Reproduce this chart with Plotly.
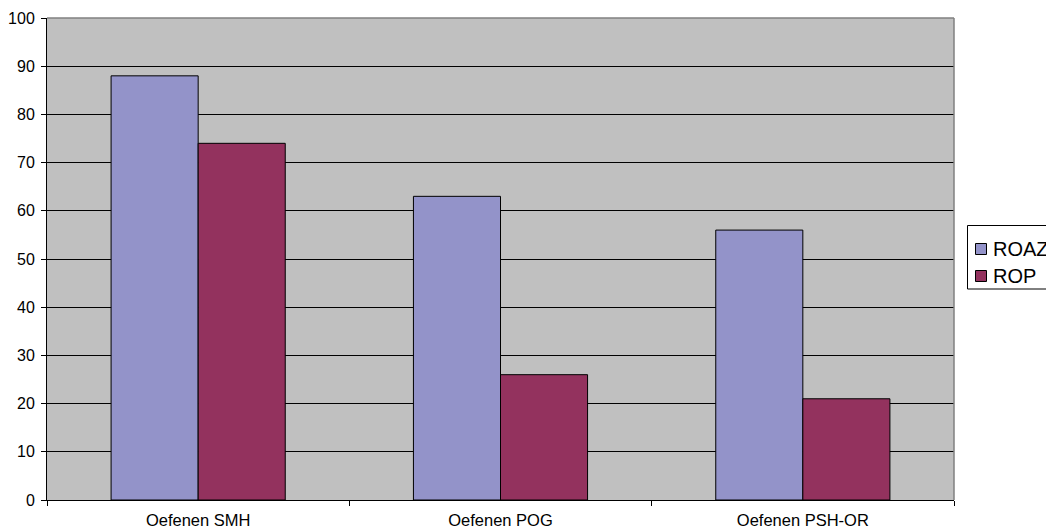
import plotly.graph_objects as go

categories = ["Oefenen SMH", "Oefenen POG", "Oefenen PSH-OR"]
series_names = ["ROAZ", "ROP"]
roaz = [88, 63, 56]
rop = [74, 26, 21]
colors = ["#9393C9", "#93325E"]

fig = go.Figure()
for name, vals, col in zip(series_names, [roaz, rop], colors):
    fig.add_trace(go.Bar(name=name, x=categories, y=vals, showlegend=False,
                         marker=dict(color=col, line=dict(color="black", width=1))))

# plot area in window pixels: x 47..954, y 18..500 (page body adds an 8px offset)
L, W, B, H = 47, 907, 500, 482
def px(x):
    return (x - L) / W
def py(y):
    return (B - y) / H

shapes = [
    dict(type="line", xref="paper", yref="paper", x0=0, x1=1, y0=1, y1=1,
         line=dict(color="#808080", width=1.5), layer="above"),
    dict(type="line", xref="paper", yref="paper", x0=1, x1=1, y0=0, y1=1,
         line=dict(color="#808080", width=1.5), layer="above"),
    dict(type="rect", xref="paper", yref="paper", x0=px(967.5), x1=px(1070),
         y0=py(289), y1=py(225.5), line=dict(color="black", width=1), fillcolor="white"),
]
annotations = []
centers = [249, 276]
for name, col, cy in zip(series_names, colors, centers):
    shapes.append(dict(type="rect", xref="paper", yref="paper", x0=px(975.5), x1=px(986.5),
                       y0=py(cy + 5.5), y1=py(cy - 5.5),
                       line=dict(color="black", width=1), fillcolor=col))
    annotations.append(dict(text=name, xref="paper", yref="paper", x=px(991), y=py(cy),
                            xanchor="left", yanchor="middle", showarrow=False,
                            font=dict(size=20, color="black")))

fig.update_layout(
    width=1046, height=524,
    margin=dict(l=39, r=100, t=10, b=32),
    paper_bgcolor="white",
    plot_bgcolor="#C0C0C0",
    barmode="group",
    bargap=0.424,
    bargroupgap=0,
    font=dict(family="Liberation Sans, Arial, sans-serif", size=12, color="black"),
    showlegend=False,
    shapes=shapes,
    annotations=annotations,
)
fig.update_xaxes(type="category", showline=True, linecolor="black", linewidth=1,
                 ticks="outside", tickson="boundaries", ticklen=5, tickcolor="black",
                 showgrid=False, tickfont=dict(size=16.5), automargin=False,
                 ticklabelstandoff=5)
fig.update_yaxes(range=[0, 100], dtick=10, showline=True, linecolor="black", linewidth=1,
                 ticks="outside", ticklen=5, tickcolor="black",
                 showgrid=True, gridcolor="black", gridwidth=1, zeroline=False,
                 tickfont=dict(size=16), automargin=False, ticklabelstandoff=3)

fig.write_html("out.html")
